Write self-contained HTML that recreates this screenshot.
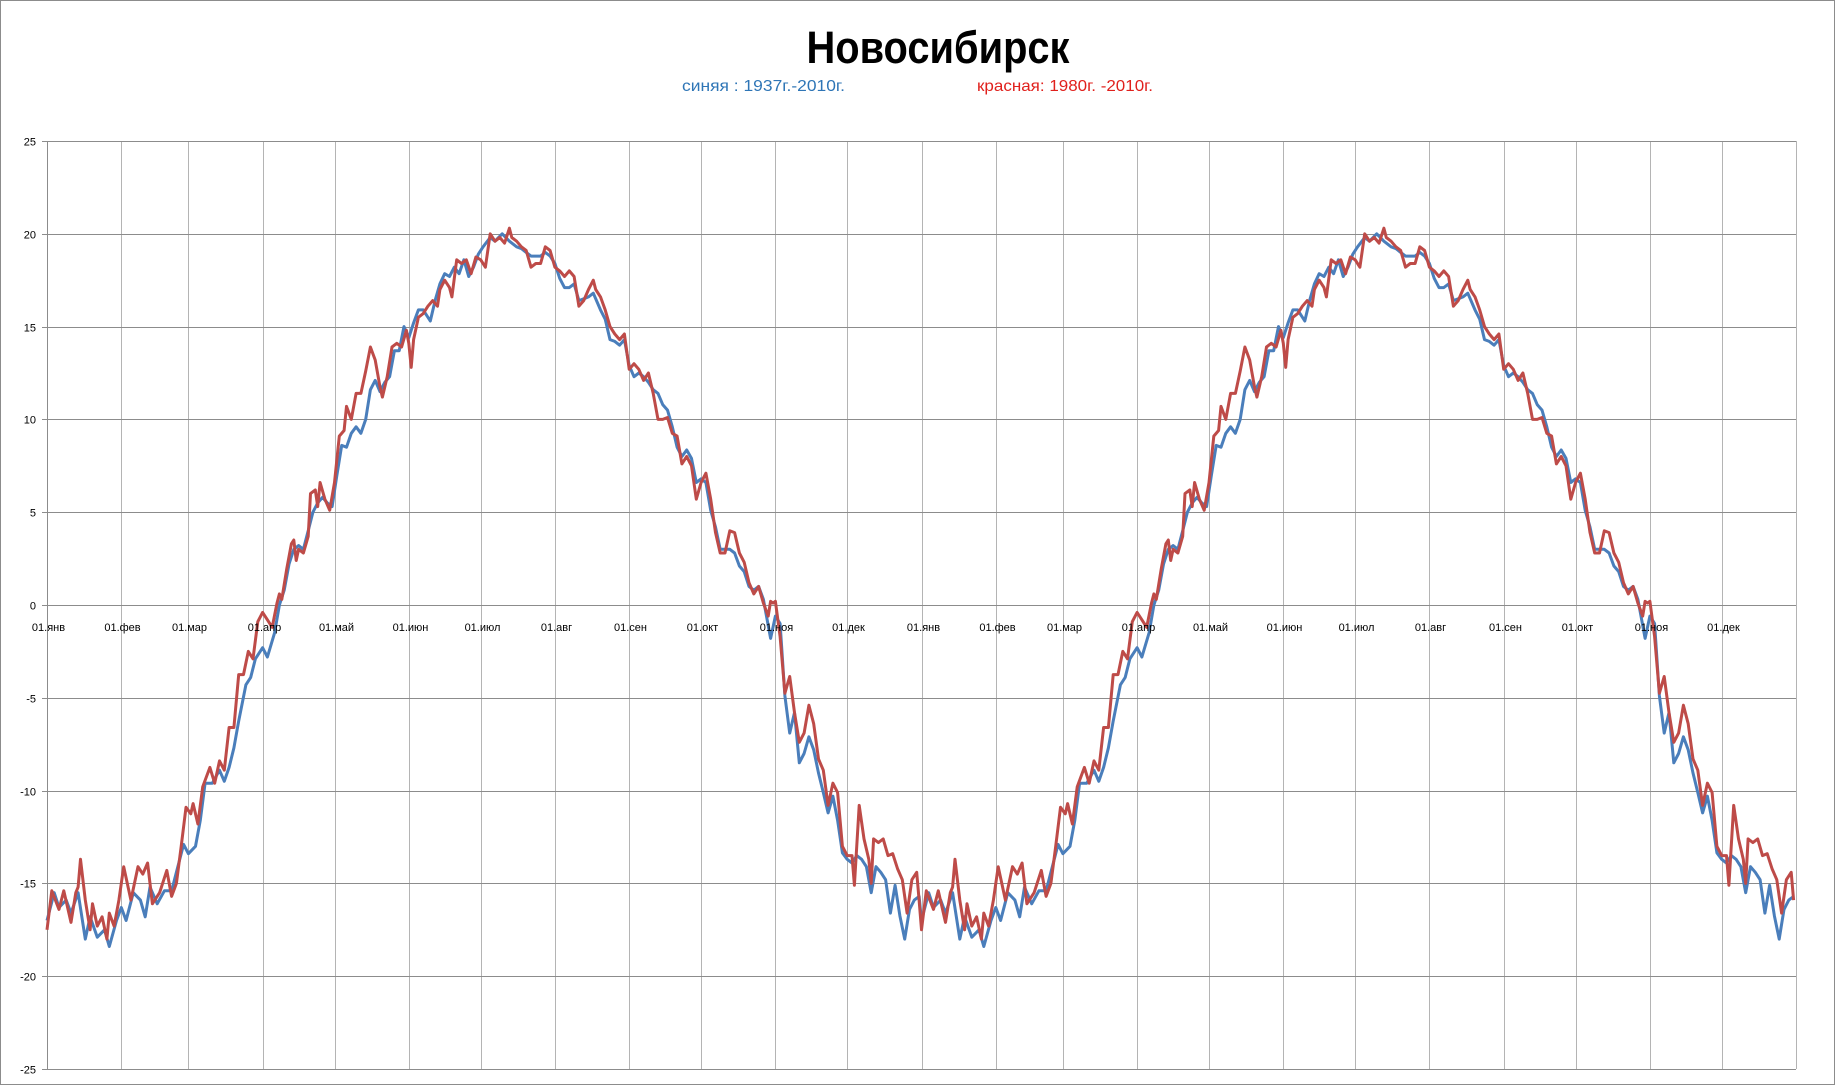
<!DOCTYPE html>
<html><head><meta charset="utf-8"><style>
html,body{margin:0;padding:0;background:#fff}
svg{display:block}
</style></head><body>
<svg id="chart" width="1835" height="1085" viewBox="0 0 1835 1085" xmlns="http://www.w3.org/2000/svg">
<rect x="0.5" y="0.5" width="1834" height="1084" fill="#fff" stroke="#8c8c8c"/>
<text x="938" y="63" text-anchor="middle" font-family="Liberation Sans, sans-serif" font-weight="bold" font-size="45" textLength="263" lengthAdjust="spacingAndGlyphs">Новосибирск</text>
<text x="682" y="91" fill="#2e75b6" font-family="Liberation Sans, sans-serif" font-size="16" textLength="163" lengthAdjust="spacingAndGlyphs">синяя :  1937г.-2010г.</text>
<text x="977" y="91" fill="#e0201c" font-family="Liberation Sans, sans-serif" font-size="16" textLength="176" lengthAdjust="spacingAndGlyphs">красная: 1980г. -2010г.</text>
<g id="grid"></g>
<g id="series"></g>
<g id="labels"></g>
</svg>
<script>
const yTicks = [25,20,15,10,5,0,-5,-10,-15,-20,-25];
const monthNames = ['01.янв','01.фев','01.мар','01.апр','01.май','01.июн','01.июл','01.авг','01.сен','01.окт','01.ноя','01.дек'];
const monthStartDays = [0,31,59,90,120,151,181,212,243,273,304,334];
const years = 2;
const daysPerYear = 365;

const blueDays = [0,3,5,8,10,13,16,18,21,24,26,29,31,33,36,39,41,43,46,49,52,55,57,59,62,64,66,69,72,74,76,78,80,83,85,87,90,92,95,97,99,101,103,105,107,109,111,113,115,117,119,121,123,125,127,129,131,133,135,137,139,141,143,145,147,149,151,153,155,157,160,162,164,166,168,170,172,174,176,178,180,182,185,187,190,193,196,198,200,202,204,206,208,210,212,214,216,218,220,222,224,226,228,231,233,235,237,239,241,243,245,247,249,251,253,255,257,259,261,263,265,267,269,271,273,275,277,279,281,283,285,287,289,291,293,295,297,299,301,302,304,306,308,310,312,314,316,318,320,322,324,326,328,330,332,334,336,338,340,342,344,346,348,350,352,354,356,358,360,362,364];
const blueValues = [-17.0,-15.5,-16.3,-15.9,-16.6,-15.5,-18.0,-16.8,-17.9,-17.5,-18.4,-17.0,-16.3,-17.0,-15.5,-15.9,-16.8,-15.2,-16.1,-15.4,-15.4,-13.9,-12.9,-13.4,-13.0,-11.6,-9.6,-9.6,-8.9,-9.5,-8.75,-7.7,-6.25,-4.3,-3.9,-2.9,-2.3,-2.8,-1.5,0.0,0.8,2.2,3.0,3.2,3.0,4.0,5.0,5.5,5.8,5.5,5.3,7.0,8.6,8.5,9.25,9.6,9.25,10.0,11.6,12.1,11.5,12.0,12.3,13.7,13.7,15.0,14.4,15.2,15.9,15.9,15.3,16.4,17.3,17.85,17.7,18.2,17.85,18.6,17.7,18.2,18.9,19.3,19.8,19.6,20.0,19.6,19.3,19.2,19.0,18.8,18.8,18.8,19.0,18.8,18.4,17.6,17.1,17.1,17.3,16.4,16.5,16.6,16.8,15.9,15.4,14.3,14.2,14.0,14.3,12.9,12.3,12.5,12.3,12.0,11.6,11.4,10.8,10.5,9.6,8.5,8.0,8.35,7.9,6.6,6.8,6.6,5.1,4.2,3.0,3.0,3.0,2.8,2.1,1.8,1.0,0.8,1.0,0.3,-1.1,-1.8,-0.6,-1.0,-4.9,-6.9,-5.8,-8.5,-8.0,-7.1,-7.8,-9.05,-10.1,-11.2,-10.3,-11.6,-13.35,-13.7,-13.9,-13.5,-13.7,-14.1,-15.5,-14.1,-14.4,-14.8,-16.6,-15.1,-16.75,-18.0,-16.4,-15.9,-15.7];

const redDays = [0,2,5,7,10,12,13,14,16,18,19,21,23,25,26,28,30,32,35,38,40,42,44,47,50,52,54,56,58,60,61,63,65,68,70,72,74,76,78,80,82,84,86,88,90,92,94,96,97,98,100,102,103,104,105,107,109,110,112,113,114,116,118,120,122,124,125,127,129,131,133,135,137,139,140,142,144,146,148,150,151,152,153,155,157,159,161,163,164,166,168,169,171,173,175,177,179,181,183,185,187,189,191,193,194,196,198,200,202,204,206,208,210,212,214,216,218,220,222,224,226,228,229,231,233,235,237,239,241,243,245,247,249,251,253,255,257,259,261,263,265,267,269,271,273,275,277,279,281,283,285,287,289,291,293,295,297,299,301,302,303,304,306,308,310,312,314,316,318,320,322,324,326,328,330,332,334,336,337,339,341,343,344,345,347,349,351,353,355,357,359,361,363,364];
const redValues = [-17.5,-15.4,-16.4,-15.4,-17.1,-15.5,-15.2,-13.7,-15.9,-17.5,-16.1,-17.3,-16.8,-18.0,-16.6,-17.3,-15.9,-14.1,-15.9,-14.1,-14.5,-13.9,-16.1,-15.5,-14.3,-15.7,-15.0,-13.0,-10.9,-11.25,-10.7,-11.8,-9.8,-8.75,-9.6,-8.4,-8.9,-6.6,-6.6,-3.75,-3.75,-2.5,-2.9,-0.9,-0.4,-0.8,-1.2,0.1,0.6,0.3,1.9,3.3,3.5,2.4,3.0,2.8,3.7,6.0,6.2,5.3,6.6,5.7,5.1,6.6,9.1,9.4,10.7,10.0,11.4,11.4,12.6,13.9,13.2,11.75,11.2,12.3,13.9,14.1,13.9,14.8,14.1,12.8,14.3,15.5,15.7,16.1,16.4,16.1,17.0,17.5,17.1,16.6,18.6,18.4,18.6,17.85,18.75,18.6,18.2,20.0,19.6,19.8,19.5,20.3,19.8,19.6,19.3,19.1,18.2,18.4,18.4,19.3,19.1,18.2,18.0,17.7,18.0,17.7,16.1,16.4,17.0,17.5,17.0,16.6,15.9,15.0,14.6,14.3,14.6,12.7,13.0,12.7,12.1,12.5,11.4,10.0,10.0,10.1,9.25,9.1,7.6,8.0,7.5,5.7,6.6,7.1,5.7,3.9,2.8,2.8,4.0,3.9,2.8,2.3,1.2,0.6,1.0,0.1,-0.6,0.2,0.1,0.2,-1.7,-4.75,-3.85,-5.8,-7.4,-6.9,-5.4,-6.4,-8.3,-8.9,-10.8,-9.6,-10.1,-13.0,-13.5,-13.5,-15.1,-10.8,-12.6,-13.7,-15.0,-12.6,-12.8,-12.6,-13.5,-13.4,-14.2,-14.8,-16.6,-14.8,-14.4,-15.9];

const plotLeft = 47, plotRight = 1796, plotTop = 141, plotBottom = 1069;
const yMin = -25, yMax = 25, xMaxDay = years * daysPerYear;
const NS = 'http://www.w3.org/2000/svg';
function xScale(d){ return plotLeft + (plotRight - plotLeft) * d / xMaxDay; }
function yScale(v){ return plotBottom - (plotBottom - plotTop) * (v - yMin) / (yMax - yMin); }
function mk(tag, attrs){ const e = document.createElementNS(NS, tag); for (const k in attrs) e.setAttribute(k, attrs[k]); return e; }

const grid = document.getElementById('grid');
const labels = document.getElementById('labels');
const series = document.getElementById('series');

for (let y = 0; y < years; y++) {
  monthStartDays.forEach((md, i) => {
    const x = Math.round(xScale(y * daysPerYear + md)) + 0.5;
    const l = mk('line', {x1:x, x2:x, y1:plotTop, y2:plotBottom, stroke:'#b4b4b4', 'stroke-width':1});
    
    
    grid.appendChild(l);
    const t = mk('text', {x:x+1, y:631, 'text-anchor':'middle', 'font-family':'Liberation Sans, sans-serif', 'font-size':11, fill:'#000'});
    t.textContent = monthNames[i];
    
    
    labels.appendChild(t);
  });
}
const rx = Math.round(xScale(xMaxDay)) + 0.5;
const rl = mk('line', {x1:rx, x2:rx, y1:plotTop, y2:plotBottom, stroke:'#b4b4b4', 'stroke-width':1});


grid.appendChild(rl);

yTicks.forEach(v => {
  const y = Math.round(yScale(v)) + 0.5;
  const l = mk('line', {x1:plotLeft - 5, x2:plotRight, y1:y, y2:y, stroke:'#8c8c8c', 'stroke-width':1});
  
  
  grid.appendChild(l);
  const t = mk('text', {x:36, y:y + 4, 'text-anchor':'end', 'font-family':'Liberation Sans, sans-serif', 'font-size':11, fill:'#000'});
  t.textContent = String(v);
  
  
  labels.appendChild(t);
});
const al = mk('line', {x1:plotLeft + 0.5, x2:plotLeft + 0.5, y1:plotTop, y2:plotBottom, stroke:'#8c8c8c', 'stroke-width':1});


grid.appendChild(al);

function drawSeries(days, vals, color, name){
  const pts = [];
  for (let y = 0; y < years; y++) {
    for (let i = 0; i < days.length; i++) {
      pts.push(xScale(y * daysPerYear + days[i]).toFixed(1) + ',' + yScale(vals[i]).toFixed(1));
    }
  }
  const p = mk('polyline', {points: pts.join(' '), fill:'none', stroke:color, 'stroke-width':3, 'stroke-linejoin':'round'});
  
  
  series.appendChild(p);
}
drawSeries(blueDays, blueValues, '#4a7ebb', 'series-blue-1937-2010');
drawSeries(redDays, redValues, '#be4b48', 'series-red-1980-2010');
</script>
</body></html>
